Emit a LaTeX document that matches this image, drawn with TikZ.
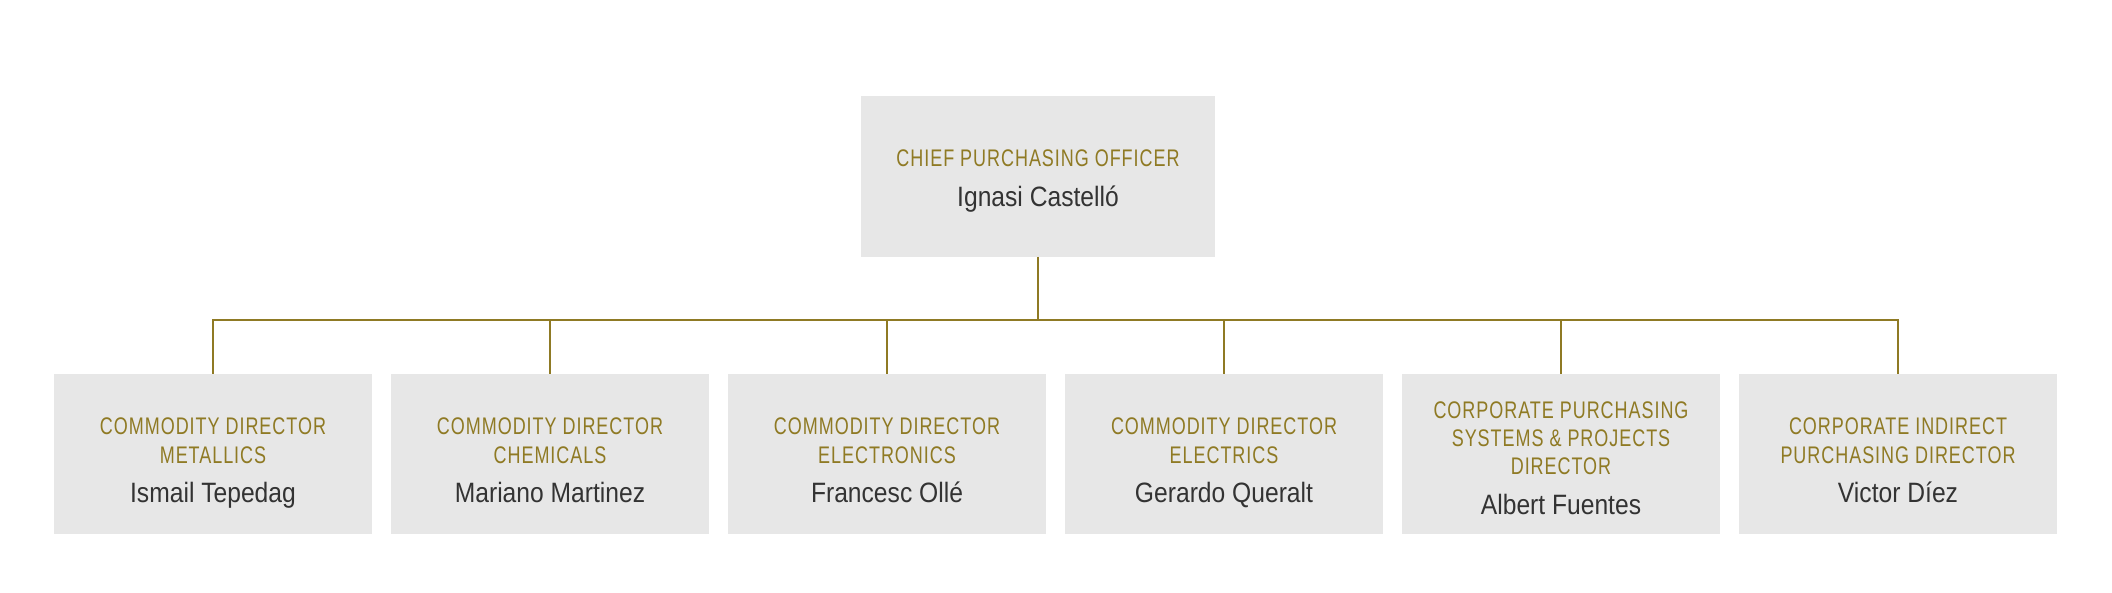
\documentclass[tikz,border=0pt]{standalone}
\usepackage{fontspec}
\setmainfont{Liberation Sans}[FakeStretch=0.88]
\newfontfamily\titlefont{Liberation Sans}[FakeStretch=0.75,LetterSpace=4]
\definecolor{gold}{HTML}{8F7A24}
\definecolor{boxgray}{HTML}{E7E7E7}
\definecolor{namegray}{HTML}{333333}
\tikzset{
 orgbox/.style={fill=boxgray, draw=none, anchor=north west, minimum width=318pt, minimum height=160pt, inner sep=0pt, outer sep=0pt},
 ttl/.style={anchor=base, text=gold, font=\titlefont\fontsize{24}{29}\selectfont, inner sep=0pt},
 nm/.style={anchor=base, text=namegray, font=\fontsize{28}{34}\selectfont, inner sep=0pt},
 link/.style={draw=gold, line width=2pt}
}
\begin{document}
\begin{tikzpicture}[x=1pt,y=-1pt]
\useasboundingbox (0,0) rectangle (2112,593);
% top box
\node[orgbox, minimum width=354pt, minimum height=161pt] (top) at (861,96) {};
\node[ttl] (topt) at (1038,167) {CHIEF PURCHASING OFFICER};
\node[nm] (topn) at (1038,207) {Ignasi Castelló};
% bottom boxes
\node[orgbox] (b1) at (54,374) {};
\node[orgbox] (b2) at (391,374) {};
\node[orgbox] (b3) at (728,374) {};
\node[orgbox] (b4) at (1065,374) {};
\node[orgbox] (b5) at (1402,374) {};
\node[orgbox] (b6) at (1739,374) {};
% texts
\node[ttl] (b1t1) at (213,434) {COMMODITY DIRECTOR};
\node[ttl] (b1t2) at (213,463) {METALLICS};
\node[nm]  (b1n)  at (213,502) {Ismail Tepedag};
\node[ttl] (b2t1) at (550,434) {COMMODITY DIRECTOR};
\node[ttl] (b2t2) at (550,463) {CHEMICALS};
\node[nm]  (b2n)  at (550,502) {Mariano Martinez};
\node[ttl] (b3t1) at (887,434) {COMMODITY DIRECTOR};
\node[ttl] (b3t2) at (887,463) {ELECTRONICS};
\node[nm]  (b3n)  at (887,502) {Francesc Ollé};
\node[ttl] (b4t1) at (1224,434) {COMMODITY DIRECTOR};
\node[ttl] (b4t2) at (1224,463) {ELECTRICS};
\node[nm]  (b4n)  at (1224,502) {Gerardo Queralt};
\node[ttl] (b5t1) at (1561,418) {CORPORATE PURCHASING};
\node[ttl] (b5t2) at (1561,446) {SYSTEMS \& PROJECTS};
\node[ttl] (b5t3) at (1561,474) {DIRECTOR};
\node[nm]  (b5n)  at (1561,514) {Albert Fuentes};
\node[ttl] (b6t1) at (1898,434) {CORPORATE INDIRECT};
\node[ttl] (b6t2) at (1898,463) {PURCHASING DIRECTOR};
\node[nm]  (b6n)  at (1898,502) {Victor Díez};
% connectors
\coordinate (bus) at (1038,320);
\draw[link] (top.south) -- (bus);
\foreach \b in {b1,b2,b3,b4,b5,b6}{
  \draw[link] (bus) -| (\b.north);
}
\end{tikzpicture}
\end{document}
